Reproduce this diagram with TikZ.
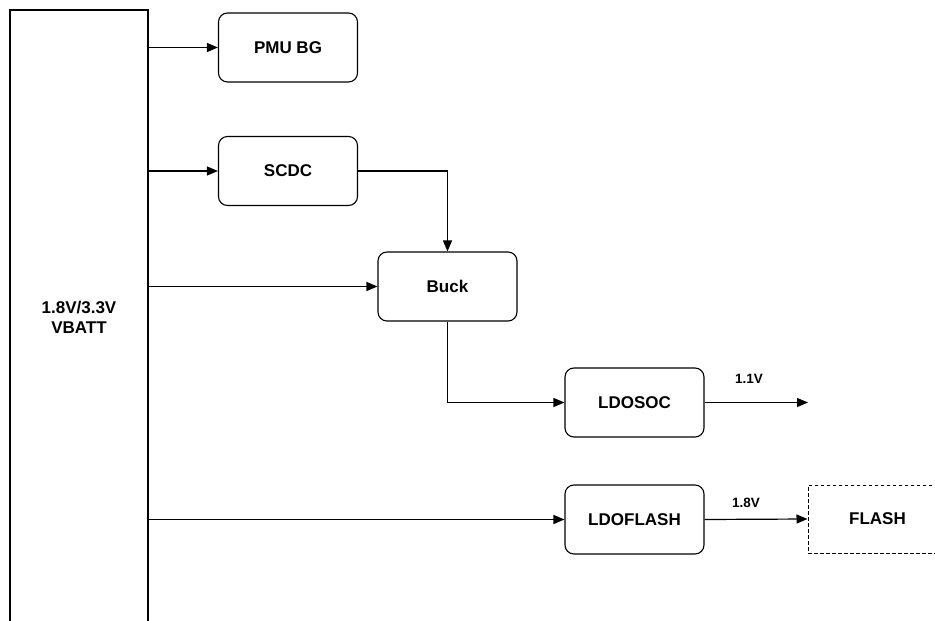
\documentclass[tikz,border=0pt]{standalone}
\usepackage{fontspec}
\setmainfont{Liberation Sans}
\usetikzlibrary{arrows.meta}
\begin{document}
\begin{tikzpicture}[x=1pt,y=-1pt,
  blk/.style={draw, line width=1.1pt, rounded corners=9pt, minimum width=139pt, minimum height=69pt, inner sep=0pt, font=\fontsize{17}{20}\selectfont\bfseries},
  vbox/.style={draw, line width=1.1pt, minimum width=138pt, minimum height=640pt, inner sep=0pt, align=center},
  dbox/.style={draw, line width=1pt, dash pattern=on 3.5pt off 2.5pt, minimum width=139pt, minimum height=68pt, inner sep=0pt, font=\fontsize{17}{20}\selectfont\bfseries},
  conn/.style={line width=1.2pt, -{Triangle[length=11pt,width=9pt]}},
  lbl/.style={font=\fontsize{13.5}{15}\selectfont\bfseries, inner sep=0pt}]
\useasboundingbox (0,0) rectangle (935,621);
\clip (0,0) rectangle (935,621);
\node[vbox] (vb) at (79,330) {};
\node[font=\fontsize{17}{20}\selectfont\bfseries, align=center] (vbt) at (79,317) {1.8V/3.3V\\VBATT};
\node[blk] (pmu) at (288,47.5) {PMU BG};
\node[blk] (scdc) at (288,171) {SCDC};
\node[blk] (buck) at (447.5,286.5) {Buck};
\node[blk] (ldosoc) at (634.5,402.5) {LDOSOC};
\node[blk] (ldoflash) at (634.5,519.5) {LDOFLASH};
\node[dbox] (flash) at (877.5,519) {FLASH};
\coordinate (out1) at (808,402.5);
\draw[conn] (vb.east |- pmu) -- (pmu.west);
\draw[conn] (vb.east |- scdc) -- (scdc.west);
\draw[conn] (vb.east |- buck) -- (buck.west);
\draw[conn] (vb.east |- ldoflash) -- (ldoflash.west);
\draw[conn] (scdc.east) -| (buck.north);
\draw[conn] (buck.south) |- (ldosoc.west);
\draw[conn] (ldosoc.east) -- (out1);
\draw[conn] (ldoflash.east) -- (flash.west);
\node[lbl] (l1) at (749,379) {1.1V};
\node[lbl] (l2) at (746,503) {1.8V};
\end{tikzpicture}
\end{document}
